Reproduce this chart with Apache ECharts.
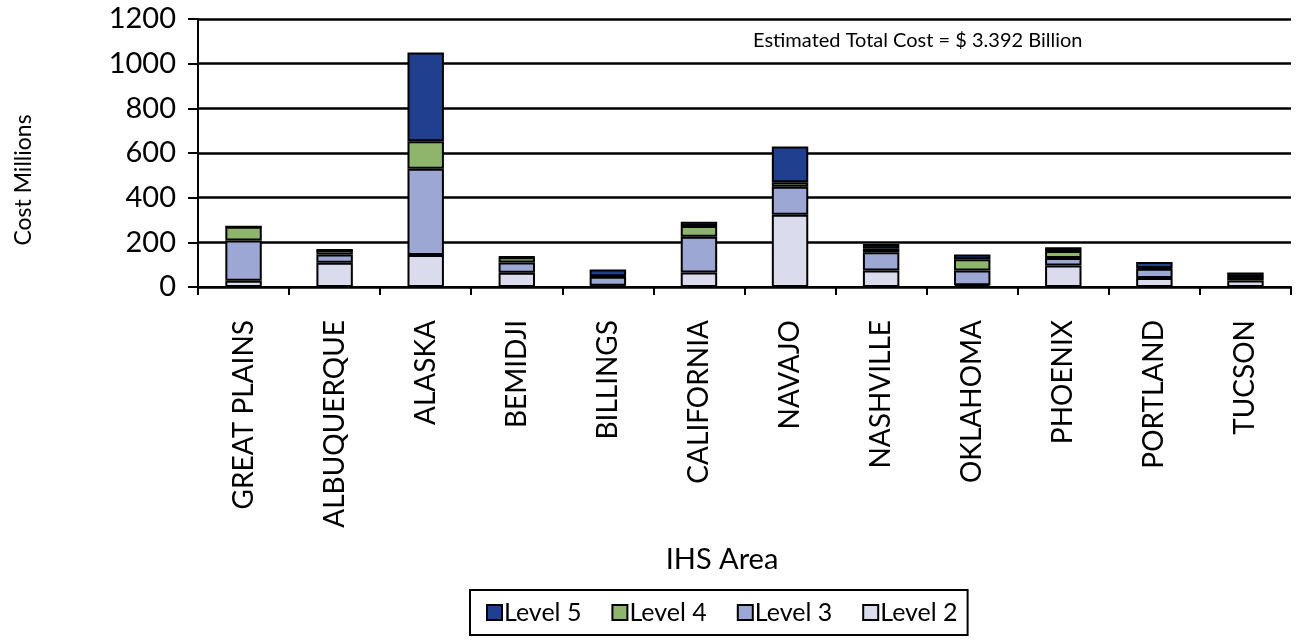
<!DOCTYPE html>
<html><head><meta charset="utf-8">
<script src="https://cdn.jsdelivr.net/npm/echarts@6/dist/echarts.min.js"></script>
<style>html,body{margin:0;padding:0;background:#fff}#c{width:1296px;height:642px}</style>
</head><body><div id="c"></div>
<script>
const categories = ['GREAT PLAINS','ALBUQUERQUE','ALASKA','BEMIDJI','BILLINGS','CALIFORNIA','NAVAJO','NASHVILLE','OKLAHOMA','PHOENIX','PORTLAND','TUCSON'];
const level2 = [28, 109, 143, 64, 6, 65, 324, 74, 8, 96, 40, 29];
const level3 = [180, 36, 386, 46, 40, 160, 125, 82, 66, 34, 42, 15];
const level4 = [62, 21, 124, 23, 2, 48, 20, 18, 50, 31, 3, 2];
const level5 = [0, 0, 397, 2, 30, 19, 160, 19, 21, 17, 27, 19];
const yTicks = [0, 200, 400, 600, 800, 1000, 1200];
const FONT = 'Lato, "Open Sans", sans-serif';
const colors = {l5:'#213F8F', l4:'#8DB56B', l3:'#9CA7D4', l2:'#DADCEE'};
const chart = echarts.init(document.getElementById('c'), null, {renderer:'canvas'});
function s(name, data, color){
  return {name, type:'bar', stack:'t', data, barWidth:'40%',
    itemStyle:{color, borderColor:'#000', borderWidth:2}, emphasis:{disabled:true}};
}
chart.setOption({
  animation:false,
  textStyle:{fontFamily:FONT},
  grid:{left:198, right:5, top:19, bottom:355},
  legend:{top:590, left:470, data:['Level 5','Level 4','Level 3','Level 2'],
    itemWidth:15, itemHeight:15, itemGap:30, icon:'rect',
    itemStyle:{borderColor:'#000', borderWidth:2},
    borderColor:'#000', borderWidth:2, padding:[10,10,10,16],
    textStyle:{fontSize:25, color:'#000', fontFamily:FONT, padding:[0,0,0,-3]}},
  xAxis:{type:'category', data:categories,
    axisLine:{lineStyle:{color:'#000', width:2}},
    axisTick:{show:true, length:8, lineStyle:{color:'#000', width:2}},
    axisLabel:{rotate:90, margin:33, fontSize:28, color:'#000', fontFamily:FONT}},
  yAxis:{type:'value', min:yTicks[0], max:yTicks[yTicks.length-1], interval:200,
    axisLine:{show:true, lineStyle:{color:'#000', width:2}},
    axisTick:{show:true, length:10, lineStyle:{color:'#000', width:2}},
    axisLabel:{fontSize:29, color:'#000', margin:22, fontFamily:FONT, formatter:v=>String(v)},
    splitLine:{show:true, lineStyle:{color:'#000', width:2.5, opacity:1}}},
  series:[s('Level 2', level2, colors.l2), s('Level 3', level3, colors.l3),
          s('Level 4', level4, colors.l4), s('Level 5', level5, colors.l5)],
  graphic:[
    {type:'text', x:753, y:41, style:{text:'Estimated Total Cost = $ 3.392 Billion', font:'20px '+FONT, fill:'#000', verticalAlign:'middle'}},
    {type:'text', x:722, y:560, style:{text:'IHS Area', font:'29px '+FONT, fill:'#000', align:'center', verticalAlign:'middle'}},
    {type:'text', x:24, y:180, rotation:Math.PI/2, style:{text:'Cost Millions', font:'23px '+FONT, fill:'#000', align:'center', verticalAlign:'middle'}}
  ]
});
</script></body></html>
